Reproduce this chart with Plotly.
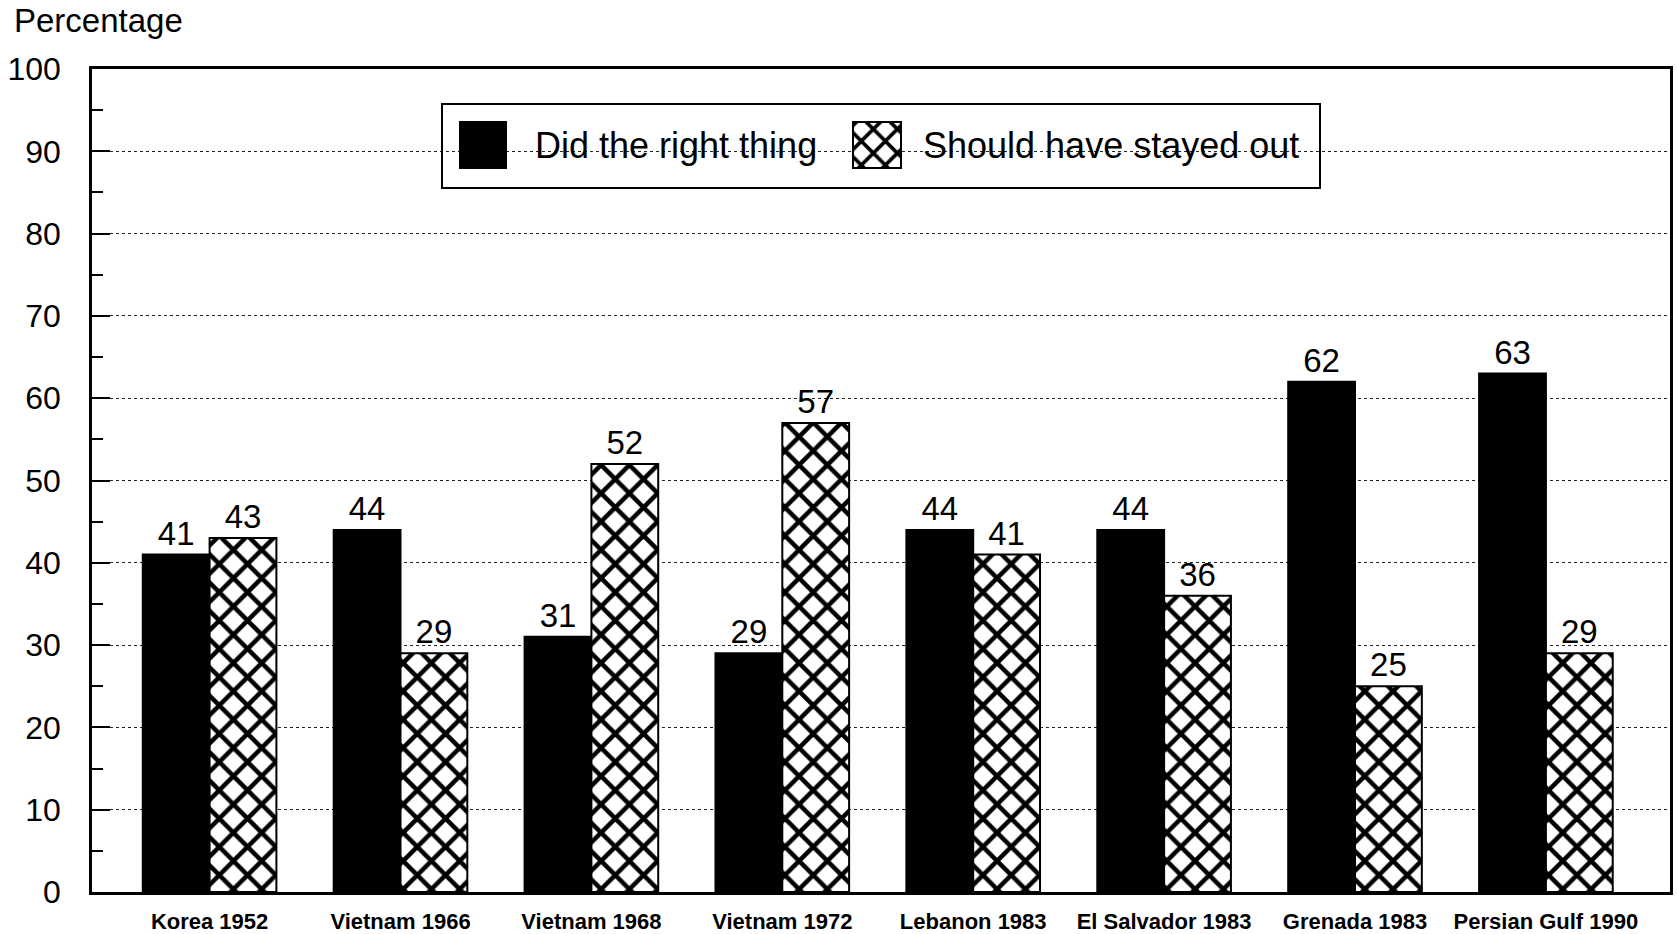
import plotly.graph_objects as go

# Survey results: was the US right to get involved, by conflict
categories = ["Korea 1952", "Vietnam 1966", "Vietnam 1968", "Vietnam 1972",
              "Lebanon 1983", "El Salvador 1983", "Grenada 1983", "Persian Gulf 1990"]
did_right = [41, 44, 31, 29, 44, 44, 62, 63]
stayed_out = [43, 29, 52, 57, 41, 36, 25, 29]
series_names = ["Did the right thing", "Should have stayed out"]
y_ticks = list(range(0, 101, 10))

FONT = "Liberation Sans, Arial, Helvetica, sans-serif"

# Page geometry (pixels)
W, H = 1677, 934
L, R, T, B = 92, 7, 69, 42
PW, PH = W - L - R, H - T - B

HATCH = dict(shape="x", fgcolor="black", bgcolor="white", fgopacity=1,
             fillmode="replace", size=20, solidity=0.4)
HATCH_KEY = dict(HATCH, size=17, solidity=0.38)

fig = go.Figure()

fig.add_trace(go.Bar(
    x=categories, y=did_right, name=series_names[0],
    marker=dict(color="black", line=dict(color="black", width=2)),
    text=did_right, textposition="outside", cliponaxis=False,
    textfont=dict(size=33, color="black", family=FONT),
    showlegend=False,
))
fig.add_trace(go.Bar(
    x=categories, y=stayed_out, name=series_names[1],
    marker=dict(color="white", line=dict(color="black", width=2), pattern=HATCH),
    text=stayed_out, textposition="outside", cliponaxis=False,
    textfont=dict(size=33, color="black", family=FONT),
    showlegend=False,
))

# Legend key swatches, drawn on a pixel-unit overlay axis pair
KEY_TOP, KEY_SIZE = 168, 46
for cx, w, col, pat in [(483 - L, 46, "black", None), (877 - L, 48, "white", HATCH_KEY)]:
    marker = dict(color=col, line=dict(color="black", width=2))
    if pat:
        marker["pattern"] = pat
    fig.add_trace(go.Bar(
        x=[cx], y=[KEY_SIZE], base=[H - B - KEY_TOP], width=[w], offset=[-w / 2],
        xaxis="x2", yaxis="y2", marker=marker,
        showlegend=False, hoverinfo="skip",
    ))


def px_x(v):
    return (v - L) / PW


def px_y(v):
    return (H - B - v) / PH


annotations = [
    dict(text="Percentage", x=px_x(12), y=px_y(20), xref="paper", yref="paper",
         xanchor="left", yanchor="middle", showarrow=False,
         font=dict(size=33, color="black", family=FONT)),
    dict(text=series_names[0], x=px_x(533), y=px_y(146), xref="paper", yref="paper",
         xanchor="left", yanchor="middle", showarrow=False,
         font=dict(size=36, color="black", family=FONT)),
    dict(text=series_names[1], x=px_x(921), y=px_y(146), xref="paper", yref="paper",
         xanchor="left", yanchor="middle", showarrow=False,
         font=dict(size=36, color="black", family=FONT)),
]

shapes = [
    dict(type="rect", xref="paper", yref="paper",
         x0=px_x(442), x1=px_x(1320), y0=px_y(188), y1=px_y(104),
         line=dict(color="black", width=2), fillcolor="rgba(0,0,0,0)", layer="above"),
]

fig.update_layout(
    width=W, height=H,
    margin=dict(l=L, r=R, t=T, b=B, pad=0, autoexpand=False),
    paper_bgcolor="white", plot_bgcolor="white",
    barmode="group", bargap=0.30, bargroupgap=0,
    font=dict(family=FONT, color="black"),
    annotations=annotations, shapes=shapes,
    xaxis=dict(
        range=[-0.616, 7.65], showgrid=False, ticks="", automargin=False,
        showline=True, linecolor="black", linewidth=2.5, mirror=True,
        tickfont=dict(size=22, color="black", family=FONT, weight="bold"),
        ticklabelstandoff=8, zeroline=False,
    ),
    yaxis=dict(
        range=[0, 100], tickvals=y_ticks, ticktext=[str(v) for v in y_ticks],
        automargin=False,
        showline=True, linecolor="black", linewidth=2.5, mirror=True,
        ticks="inside", ticklen=18, tickwidth=2, tickcolor="black",
        minor=dict(dtick=5, ticks="inside", ticklen=11, tickwidth=2,
                   tickcolor="black", showgrid=False),
        showgrid=True, gridcolor="#222222", gridwidth=1, griddash="dot",
        tickfont=dict(size=32, color="black", family=FONT),
        ticklabelstandoff=22, zeroline=False,
    ),
    xaxis2=dict(range=[0, PW], overlaying="x", anchor="y2", visible=False,
                fixedrange=True),
    yaxis2=dict(range=[0, PH], overlaying="y", anchor="x2", visible=False,
                fixedrange=True),
)

fig.write_html("out.html")
